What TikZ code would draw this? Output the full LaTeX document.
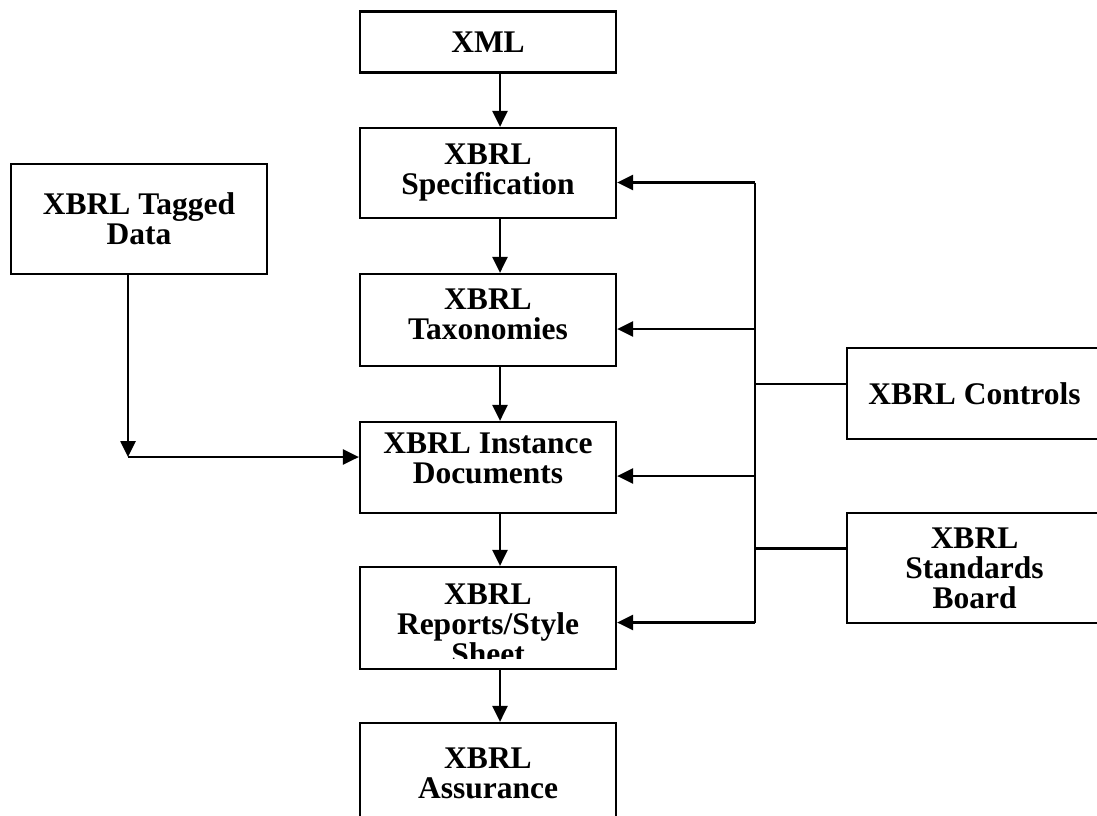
\documentclass[tikz,border=0pt]{standalone}
\usepackage{fontspec}
\setmainfont{Liberation Serif}
\usetikzlibrary{arrows.meta}
\begin{document}
\begin{tikzpicture}[x=1pt,y=-1pt,
  label text/.style={inner sep=0pt,align=center,font=\bfseries\fontsize{31.5}{30}\selectfont},
  box/.style={draw,line width=2.2pt,label text,minimum width=256pt},
  link/.style={line width=2.6pt},
  arr/.style={link,-{Triangle[length=16pt,width=15pt]}}]
\useasboundingbox (0,0) rectangle (1097,816);
\clip (0,0) rectangle (1097,816);

% main chain
\node[box,minimum height=61pt] (xml) at (488,42) {XML};
\node[box,minimum height=90pt,text depth=7.5pt] (spec) at (488,173) {XBRL\\Specification};
\node[box,minimum height=92pt,text depth=11.5pt] (tax) at (488,320) {XBRL\\Taxonomies};
\node[box,minimum height=91pt,text depth=18.5pt] (inst) at (488,467.5) {XBRL Instance\\Documents};
\node[box,minimum height=102pt] (rep) at (488,618) {};
\node[label text] (reptext) at (488,624) {XBRL\\Reports/Style\\Sheet};
\node[box,minimum height=100pt] (assur) at (488,773) {XBRL\\Assurance};

% side boxes
\node[box,minimum height=110pt] (tagged) at (139,219) {XBRL Tagged\\Data};
\node[box,minimum width=255pt,minimum height=91pt] (ctrl) at (974.5,393.5) {XBRL Controls};
\node[box,minimum width=255pt,minimum height=110pt] (std) at (974.5,568) {XBRL\\Standards\\Board};

% bottom of the last text line is cut off inside its box
\fill[white] (365,658.5) rectangle (611,667.3);

% vertical flow
\coordinate (ax) at (500,0);
\draw[arr] (xml.south -| ax) -- (spec.north -| ax);
\draw[arr] (spec.south -| ax) -- (tax.north -| ax);
\draw[arr] (tax.south -| ax) -- (inst.north -| ax);
\draw[arr] (inst.south -| ax) -- (rep.north -| ax);
\draw[arr] (rep.south -| ax) -- (assur.north -| ax);

% tagged data feed
\coordinate (tc) at (128,457);
\draw[arr] (tagged.south -| tc) -- (tc);
\draw[arr] (tc) -- (tc -| inst.west);

% control bus
\coordinate (b1) at (755,182.5);
\coordinate (b2) at (755,329);
\coordinate (b3) at (755,476);
\coordinate (b4) at (755,622.5);
\coordinate (bc) at (755,384);
\coordinate (bs) at (755,548.5);
\draw[link] (b1) -- (b4);
\draw[arr] (b1) -- (b1 -| spec.east);
\draw[arr] (b2) -- (b2 -| tax.east);
\draw[arr] (b3) -- (b3 -| inst.east);
\draw[arr] (b4) -- (b4 -| rep.east);
\draw[link] (bc) -- (bc -| ctrl.west);
\draw[link] (bs) -- (bs -| std.west);
\end{tikzpicture}
\end{document}
